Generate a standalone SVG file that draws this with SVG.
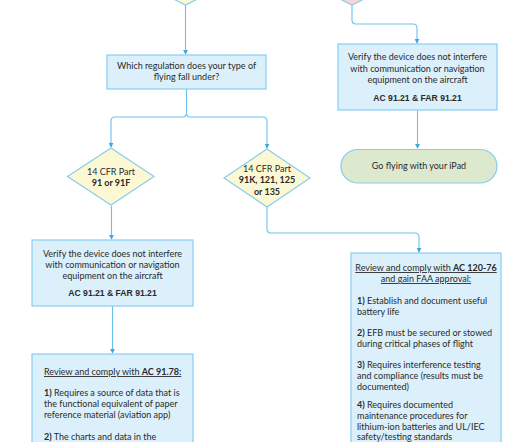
<svg xmlns="http://www.w3.org/2000/svg" width="530" height="442" viewBox="0 0 530 442">
<defs>
<marker id="arr" viewBox="0 0 6 6" refX="5" refY="3" markerWidth="5" markerHeight="5" orient="auto" markerUnits="userSpaceOnUse">
<path d="M0,0 L6,3 L0,6 z" fill="#3aa9e4"/>
</marker>
<style>
.box{fill:#dcf0fc;stroke:#86cdf0;stroke-width:1.2}
.dia{fill:#fdf8d4;stroke:#86cdf0;stroke-width:1.2}
.pink{fill:#f9d5d3;stroke:#86cdf0;stroke-width:1.2}
.term{fill:#dde9cf;stroke:#86cdf0;stroke-width:1.2}
.con{fill:none;stroke:#6cc2ec;stroke-width:1.1}
text{font-family:Lato,"Open Sans","Liberation Sans",sans-serif;font-size:9px;fill:#2a2a2a}
.c{text-anchor:middle}
.b{font-weight:bold}
.ar{font-family:"Liberation Sans",Arial,sans-serif;font-weight:bold;font-size:8.6px}
.u{text-decoration:underline}
</style>
</defs>
<g id="connectors">
<path class="con" d="M185.5,5 V54" marker-end="url(#arr)"/>
<path class="con" d="M352,5 V20 Q352,24 356,24 H413 Q417,24 417,28 V43" marker-end="url(#arr)"/>
<path class="con" d="M186.5,89 V113 Q186.5,117 182.5,117 H115 Q111,117 111,121 V147" marker-end="url(#arr)"/>
<path class="con" d="M186.5,113 Q186.5,117 190.5,117 H263 Q267,117 267,121 V148" marker-end="url(#arr)"/>
<path class="con" d="M417.5,110 V148" marker-end="url(#arr)"/>
<path class="con" d="M111.5,206 V239" marker-end="url(#arr)"/>
<path class="con" d="M267,207 V229 Q267,233 271,233 H415 Q419,233 419,237 V252" marker-end="url(#arr)"/>
<path class="con" d="M112.5,306 V353" marker-end="url(#arr)"/>
</g>
<g id="start-left">
<polygon class="dia" points="185.5,-45 235.5,-20 185.5,5 135.5,-20"/>
</g>
<g id="start-right">
<polygon class="pink" points="352,-45 402,-20 352,5 302,-20"/>
</g>
<g id="which-regulation">
<rect class="box" x="107" y="55" width="159" height="34"/>
<text class="c" x="186.5" y="69">Which regulation does your type of</text>
<text class="c" x="186.5" y="80">flying fall under?</text>
</g>
<g id="verify-right">
<rect class="box" x="338" y="44" width="159" height="66"/>
<text class="c" x="417.5" y="60">Verify the device does not interfere</text>
<text class="c" x="417.5" y="72">with communication or navigation</text>
<text class="c" x="417.5" y="83">equipment on the aircraft</text>
<text class="c ar" x="417.5" y="101">AC 91.21 &amp; FAR 91.21</text>
</g>
<g id="go-flying">
<rect class="term" x="341" y="149.5" width="156" height="33.5" rx="16.75"/>
<text class="c" x="419" y="169">Go flying with your iPad</text>
</g>
<g id="part-91">
<polygon class="dia" points="111,148 154,176.5 111,205 67.5,176.5"/>
<text class="c" x="111" y="175">14 CFR Part</text>
<text class="c b" x="111" y="186">91 or 91F</text>
</g>
<g id="part-121">
<polygon class="dia" points="267,149 310,178 267,207 224,178"/>
<text class="c" x="267" y="172">14 CFR Part</text>
<text class="c b" x="267" y="183">91K, 121, 125</text>
<text class="c b" x="267" y="195">or 135</text>
</g>
<g id="verify-left">
<rect class="box" x="32" y="240" width="161" height="66"/>
<text class="c" x="112.5" y="257">Verify the device does not interfere</text>
<text class="c" x="112.5" y="268">with communication or navigation</text>
<text class="c" x="112.5" y="279">equipment on the aircraft</text>
<text class="c ar" x="112.5" y="296">AC 91.21 &amp; FAR 91.21</text>
</g>
<g id="ac-91-78">
<rect class="box" x="32" y="354" width="161" height="100"/>
<text x="44" y="375" class="u">Review and comply with <tspan class="b">AC 91.78:</tspan></text>
<text x="44" y="396"><tspan class="b">1)</tspan> Requires a source of data that is</text>
<text x="44" y="407">the functional equivalent of paper</text>
<text x="44" y="418">reference material (aviation app)</text>
<text x="44" y="440"><tspan class="b">2)</tspan> The charts and data in the</text>
</g>
<g id="ac-120-76">
<rect class="box" x="351" y="253" width="150" height="200"/>
<text class="c u" x="426" y="271">Review and comply with <tspan class="b">AC 120-76</tspan></text>
<text class="c u" x="426" y="282">and gain FAA approval:</text>
<text x="357" y="304"><tspan class="b">1)</tspan> Establish and document useful</text>
<text x="357" y="315">battery life</text>
<text x="357" y="336"><tspan class="b">2)</tspan> EFB must be secured or stowed</text>
<text x="357" y="347">during critical phases of flight</text>
<text x="357" y="368"><tspan class="b">3)</tspan> Requires interference testing</text>
<text x="357" y="379">and compliance (results must be</text>
<text x="357" y="390">documented)</text>
<text x="357" y="408"><tspan class="b">4)</tspan> Requires documented</text>
<text x="357" y="419">maintenance procedures for</text>
<text x="357" y="430">lithium-ion batteries and UL/IEC</text>
<text x="357" y="440">safety/testing standards</text>
</g>
</svg>
